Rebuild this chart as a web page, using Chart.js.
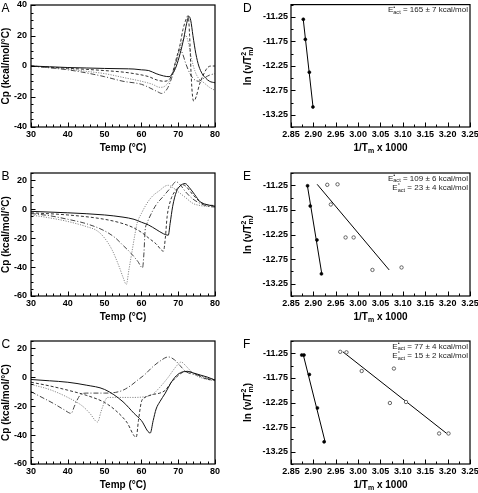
<!DOCTYPE html>
<html>
<head>
<meta charset="utf-8">
<script src="https://cdn.jsdelivr.net/npm/chart.js@4.4.1/dist/chart.umd.min.js"></script>
<style>
  html, body { margin: 0; padding: 0; background: #fff; }
  #wrap { position: relative; width: 478px; height: 493px; overflow: hidden; }
  canvas { position: absolute; }
</style>
</head>
<body>
<div id="wrap">
  <canvas id="cA" width="240" height="160" style="left:0;top:0"></canvas>
  <canvas id="cD" width="238" height="160" style="left:240px;top:0"></canvas>
  <canvas id="cB" width="240" height="170" style="left:0;top:160px"></canvas>
  <canvas id="cE" width="238" height="170" style="left:240px;top:160px"></canvas>
  <canvas id="cC" width="240" height="163" style="left:0;top:330px"></canvas>
  <canvas id="cF" width="238" height="163" style="left:240px;top:330px"></canvas>
</div>
<script>
// ---- DSC scans (Temp in C, Cp in kcal/mol/C) ----
const tA1 = [30,35,40,45,50,55,58,60,62,64,66,67.5,68.5,69.5,70.5,71.5,72.3,72.9,73.4,74,74.8,75.6,76.5,77.5,78.5,80];
const cpA1 = [0,-0.5,-1,-1.3,-1.6,-1.8,-2,-2.5,-3,-5,-6.5,-7,-5,0,8,18,28,32.5,30,20,8,0,-5,-8,-10,-11];
const tA2 = [30,35,40,45,50,55,58,62,64,66,67.5,68.5,69.5,70.5,71.3,72.2,72.7,73.1,73.5,73.9,74.3,74.9,75.8,77,78,79,80];
const cpA2 = [0,-0.8,-1.5,-2.2,-3,-4,-5,-7,-9,-10,-9,-4,5,14,24,31,33,20,-5,-20,-23,-20,-12,-5,-1,0,0];
const tA3 = [30,35,40,45,50,56,60,63,65,66.5,68,69,70,70.8,71.5,72,72.8,73.6,74.5,75.5,77,78.5,80];
const cpA3 = [0,-1,-2,-3.5,-5,-8,-10,-12,-14,-13,-8,0,8,14,18,20,15,5,-3,-8,-11,-14,-16];
const tA4 = [30,35,40,45,50,55,60,62,64.5,65.5,67,68.2,69.2,70,70.5,71.2,72,73,74,75.5,77,78.5,80];
const cpA4 = [0,-1.2,-2.5,-4.5,-7,-10,-12,-14,-17,-18,-15,-8,0,8,11,8,2,-4,-8,-10,-8,-6,-5];

const tB1 = [30,35,40,45,48,50,52,54,55,55.9,56.6,57.4,58.2,58.8,60,61.5,63,65,66.5,67.3,68.5,70,72,74,76,78,80];
const cpB1 = [-4,-6,-8.5,-12,-15,-20,-28,-40,-47,-52,-42,-30,-18,-10,-3,4,9,13,16,16.5,15,12,8,4,2.5,2,2];
const tB2 = [30,35,40,45,50,53,55,57,59,60.3,60.7,61,61.5,62.5,64,66,68,69.4,70.5,72,74,76,78,80];
const cpB2 = [-3,-4.5,-7,-10,-15,-20,-25,-30,-36,-40.5,-30,-15,-10,-4,3,9,15,19,17,12,7,4,2,1.5];
const tB3 = [30,40,50,55,58,60,62,64,66,66.5,67,67.8,69,70.5,71,72,74,76,78,80];
const cpB3 = [-2.5,-4,-7,-10,-13,-16,-20,-24,-29,-20,-5,5,12,16,17,16,10,5,3,2.5];
const tB4 = [30,40,50,55,58,60,62,64,66,67.3,67.8,68.5,69.5,70.5,71.9,73,74.5,76,78,80];
const cpB4 = [-1.5,-2.5,-4,-5.5,-7,-9,-11,-14,-17,-18,-10,2,12,16,17.7,15,10,5,3,2];

const tC1 = [30,33,36,39,40.9,41.8,42.7,43.5,45,50,53,55,57,59,61,63,65,67.3,69,70.5,72,74,76,78,80];
const cpC1 = [-10,-14,-18,-22.5,-25,-20,-15,-12,-11,-11,-10.5,-9,-6,-2,2,7,11,14,12,8,4,2,1,-1,-1.5];
const tC2 = [30,35,40,44,46,48.1,49,50,50.8,53,57,61,63,65,67,69,70,70.8,72,73.5,75,77,80];
const cpC2 = [-5,-8.5,-14,-20,-25,-31,-24,-17,-14,-14,-14,-13.5,-12,-7,-1,6,9,10.5,8,4,1,-1,-2.5];
const tC3 = [30,35,40,45,50,53,56,58.6,59.2,60,61,63,65,66.5,68,69.5,71,72.5,74,76,78,80];
const cpC3 = [-3.5,-6,-9,-12.5,-17.5,-23,-31,-41.5,-30,-17,-14,-12,-11,-9,-4,0,3,4,3,0.5,-1.5,-2];
const tC4 = [30,35,40,45,50,55,58,60,62.4,63.2,64,65,66.5,68,69.5,71,72.5,74,76,78,80];
const cpC4 = [-1.6,-2.5,-3.5,-5.5,-8.5,-17,-25,-30,-38.6,-30,-22,-17,-11,-4,1,3.5,4,3,1.5,0,-2];

// ---- Kissinger plots: 1/Tm x 1000 vs ln(v/Tm^2) ----
const xD = [2.8775, 2.882, 2.891, 2.899];
const yD = [-11.30, -11.71, -12.38, -13.09];
const xE1 = [2.887, 2.893, 2.908, 2.918];
const yE1 = [-11.26, -11.67, -12.36, -13.05];
const xE2 = [2.931, 2.939, 2.954, 2.972, 2.990, 3.032, 3.097];
const yE2 = [-11.24, -11.64, -11.23, -12.31, -12.31, -12.97, -12.92];
const xF1 = [2.874, 2.879, 2.891, 2.909, 2.924];
const yF1 = [-11.285, -11.285, -11.68, -12.36, -13.05];
const xF2 = [2.960, 2.974, 3.008, 3.071, 3.080, 3.107, 3.181, 3.202];
const yF2 = [-11.22, -11.23, -11.61, -12.26, -11.56, -12.24, -12.88, -12.88];

const tempTicks = [30, 40, 50, 60, 70, 80];
const invTTicks = [2.85, 2.90, 2.95, 3.00, 3.05, 3.10, 3.15, 3.20, 3.25];
const lnTicks = [-13.25, -12.75, -12.25, -11.75, -11.25];

const FONT = "'Liberation Sans', Arial, sans-serif";

function pts(xs, ys) { return xs.map((x, i) => ({ x: x, y: ys[i] })); }

// least squares line, drawn over the y span of the points
function fit(xs, ys) {
  const n = xs.length;
  const mx = xs.reduce((a, b) => a + b, 0) / n;
  const my = ys.reduce((a, b) => a + b, 0) / n;
  let sxy = 0, sxx = 0;
  xs.forEach((x, i) => { sxy += (x - mx) * (ys[i] - my); sxx += (x - mx) * (x - mx); });
  const m = sxy / sxx, b = my - m * mx;
  const hi = Math.max(...ys), lo = Math.min(...ys);
  return [{ x: (hi - b) / m, y: hi }, { x: (lo - b) / m, y: lo }];
}

// rich text: parts = [[text], [text,'sub'], [text,'sup'], [sup, sub, 'both']]
function richWidth(ctx, parts, size, weight) {
  let w = 0;
  parts.forEach(p => {
    if (p.length === 1) { ctx.font = weight + ' ' + size + 'px ' + FONT; w += ctx.measureText(p[0]).width; }
    else if (p[1] === 'sub' || p[1] === 'sup') { ctx.font = weight + ' ' + (size * 0.7) + 'px ' + FONT; w += ctx.measureText(p[0]).width; }
    else { ctx.font = weight + ' ' + (size * 0.7) + 'px ' + FONT; w += Math.max(ctx.measureText(p[0]).width, ctx.measureText(p[1]).width); }
  });
  return w;
}
function drawRich(ctx, parts, x, y, size, weight, align) {
  const w = richWidth(ctx, parts, size, weight);
  let cx = align === 'center' ? x - w / 2 : (align === 'right' ? x - w : x);
  ctx.textAlign = 'left';
  ctx.textBaseline = 'middle';
  parts.forEach(p => {
    if (p.length === 1) {
      ctx.font = weight + ' ' + size + 'px ' + FONT;
      ctx.fillText(p[0], cx, y); cx += ctx.measureText(p[0]).width;
    } else if (p[1] === 'sub' || p[1] === 'sup') {
      ctx.font = weight + ' ' + (size * 0.7) + 'px ' + FONT;
      ctx.fillText(p[0], cx, y + (p[1] === 'sub' ? size * 0.3 : -size * 0.35));
      cx += ctx.measureText(p[0]).width;
    } else {
      ctx.font = weight + ' ' + (size * 0.7) + 'px ' + FONT;
      ctx.fillText(p[0], cx, y - size * 0.35);
      ctx.fillText(p[1], cx, y + size * 0.3);
      cx += Math.max(ctx.measureText(p[0]).width, ctx.measureText(p[1]).width);
    }
  });
}

const framePlugin = {
  id: 'frame',
  afterDraw(chart) {
    const o = chart.options.plugins.frame;
    const ctx = chart.ctx, a = chart.chartArea;
    const xs = chart.scales.x, ys = chart.scales.y;
    ctx.save();
    ctx.strokeStyle = '#000';
    ctx.fillStyle = '#000';
    ctx.lineWidth = 1.2;
    ctx.strokeRect(a.left, a.top, a.right - a.left, a.bottom - a.top);
    ctx.lineWidth = 1;
    ctx.beginPath();
    const eps = 1e-6;
    for (let v = Math.ceil(xs.min / o.xMinor - eps) * o.xMinor; v <= xs.max + eps; v += o.xMinor) {
      const px = Math.round(xs.getPixelForValue(v)) + 0.5;
      ctx.moveTo(px, a.bottom); ctx.lineTo(px, a.bottom - 2.5);
    }
    o.xMajor.forEach(v => {
      const px = Math.round(xs.getPixelForValue(v)) + 0.5;
      ctx.moveTo(px, a.bottom); ctx.lineTo(px, a.bottom - 4.5);
    });
    for (let v = Math.ceil(ys.min / o.yMinor - eps) * o.yMinor; v <= ys.max + eps; v += o.yMinor) {
      const py = Math.round(ys.getPixelForValue(v)) + 0.5;
      ctx.moveTo(a.left, py); ctx.lineTo(a.left + 2.5, py);
    }
    o.yMajor.forEach(v => {
      const py = Math.round(ys.getPixelForValue(v)) + 0.5;
      ctx.moveTo(a.left, py); ctx.lineTo(a.left + 4.5, py);
    });
    ctx.stroke();

    // panel letter
    ctx.font = '12px ' + FONT;
    ctx.textAlign = 'left';
    ctx.textBaseline = 'top';
    ctx.fillText(o.letter, o.letterX, a.top - 2);

    // axis titles
    drawRich(ctx, o.xTitle, (a.left + a.right) / 2, a.bottom + 21, 10, 'bold', 'center');
    ctx.save();
    ctx.translate(o.yTitleX, (a.top + a.bottom) / 2);
    ctx.rotate(-Math.PI / 2);
    drawRich(ctx, o.yTitle, 0, 0, 10, 'bold', 'center');
    ctx.restore();

    // activation energy notes
    ctx.fillStyle = '#222';
    (o.notes || []).forEach((n, i) => {
      drawRich(ctx, n, a.right - 2, a.top + 5.5 + i * 9.5, 8, 'normal', 'right');
    });
    ctx.restore();
  }
};

const lineStyles = [
  { c: '#111', d: [] },
  { c: '#333', d: [3, 2] },
  { c: '#8a8a8a', d: [1.2, 1.3] },
  { c: '#444', d: [5, 2, 1, 2] }
];

function baseScales(xMin, xMax, xTicks, yMin, yMax, yTicks, yWidth, xHeight, fmt) {
  const tickFont = { family: FONT, size: 9, weight: 'bold' };
  return {
    x: {
      type: 'linear', min: xMin, max: xMax,
      grid: { display: false, drawTicks: false }, border: { display: false },
      afterBuildTicks: s => { s.ticks = xTicks.map(v => ({ value: v })); },
      afterFit: s => { s.height = xHeight; s.paddingLeft = 0; s.paddingRight = 0; },
      ticks: { color: '#000', font: tickFont, padding: 2, maxRotation: 0, autoSkip: false, callback: fmt }
    },
    y: {
      type: 'linear', min: yMin, max: yMax,
      grid: { display: false, drawTicks: false }, border: { display: false },
      afterBuildTicks: s => { s.ticks = yTicks.map(v => ({ value: v })); },
      afterFit: s => { s.width = yWidth; s.paddingTop = 0; s.paddingBottom = 0; },
      ticks: { color: '#000', font: tickFont, padding: 4, autoSkip: false, callback: fmt }
    }
  };
}

function dscChart(id, letter, curves, yMin, yMax, yTicks, padTop, xHeight) {
  const datasets = curves.map((c, i) => ({
    data: pts(c[0], c[1]), showLine: true, pointRadius: 0,
    borderColor: lineStyles[i].c, borderDash: lineStyles[i].d, borderWidth: 1,
    cubicInterpolationMode: 'monotone'
  }));
  const scales = baseScales(30, 80, tempTicks, yMin, yMax, yTicks, 31, xHeight, v => String(v));
  new Chart(document.getElementById(id), {
    type: 'scatter',
    data: { datasets: datasets },
    options: {
      responsive: false, animation: false,
      layout: { padding: { top: padTop, right: 25, left: 0, bottom: 0 } },
      scales: scales,
      plugins: {
        legend: { display: false }, tooltip: { enabled: false },
        frame: {
          letter: letter, letterX: 1.5, xMinor: 2, yMinor: 5, xMajor: tempTicks, yMajor: yTicks,
          xTitle: [['Temp (°C)']], yTitle: [['Cp (kcal/mol/°C)']], yTitleX: 6
        }
      }
    },
    plugins: [framePlugin]
  });
}

function rateChart(id, letter, fx, fy, ox, oy, notes, padTop, xHeight) {
  const datasets = [
    { data: pts(fx, fy), showLine: false, pointRadius: 1.5, pointBackgroundColor: '#000', pointBorderColor: '#000', borderWidth: 0.6 },
    { data: fit(fx, fy), showLine: true, pointRadius: 0, borderColor: '#000', borderWidth: 1 }
  ];
  if (ox) {
    datasets.push({ data: pts(ox, oy), showLine: false, pointRadius: 1.7, pointBackgroundColor: '#fff', pointBorderColor: '#555', pointBorderWidth: 0.9 });
    datasets.push({ data: fit(ox, oy), showLine: true, pointRadius: 0, borderColor: '#000', borderWidth: 1 });
  }
  const scales = baseScales(2.85, 3.25, invTTicks, -13.5, -11.0, lnTicks, 51, xHeight, v => v.toFixed(2));
  scales.y.ticks.padding = 3;
  new Chart(document.getElementById(id), {
    type: 'scatter',
    data: { datasets: datasets },
    options: {
      responsive: false, animation: false,
      layout: { padding: { top: padTop, right: 8, left: 0, bottom: 0 } },
      scales: scales,
      plugins: {
        legend: { display: false }, tooltip: { enabled: false },
        frame: {
          letter: letter, letterX: 3, xMinor: 0.025, yMinor: 0.25, xMajor: invTTicks, yMajor: lnTicks,
          xTitle: [['1/T'], ['m', 'sub'], [' x 1000']],
          yTitle: [['ln (ν/T'], ['2', 'm', 'both'], [')']], yTitleX: 8,
          notes: notes
        }
      }
    },
    plugins: [framePlugin]
  });
}

dscChart('cA', 'A', [[tA1, cpA1], [tA2, cpA2], [tA3, cpA3], [tA4, cpA4]], -40, 40, [-40, -20, 0, 20, 40], 5, 33);
dscChart('cB', 'B', [[tB4, cpB4], [tB3, cpB3], [tB1, cpB1], [tB2, cpB2]], -60, 25, [-60, -40, -20, 0, 20], 13, 34);
dscChart('cC', 'C', [[tC4, cpC4], [tC3, cpC3], [tC2, cpC2], [tC1, cpC1]], -60, 25, [-60, -40, -20, 0, 20], 11, 29);

rateChart('cD', 'D', xD, yD, null, null,
  [[['E'], ['•', 'act', 'both'], [' = 165 ± 7 kcal/mol']]], 4, 33);
rateChart('cE', 'E', xE1, yE1, xE2, yE2,
  [[['E'], ['•', 'act', 'both'], [' = 109 ± 6 kcal/mol']],
   [['E'], ['°', 'act', 'both'], [' = 23 ± 4 kcal/mol']]], 13, 34);
rateChart('cF', 'F', xF1, yF1, xF2, yF2,
  [[['E'], ['•', 'act', 'both'], [' = 77 ± 4 kcal/mol']],
   [['E'], ['°', 'act', 'both'], [' = 15 ± 2 kcal/mol']]], 11, 29);
</script>
</body>
</html>
